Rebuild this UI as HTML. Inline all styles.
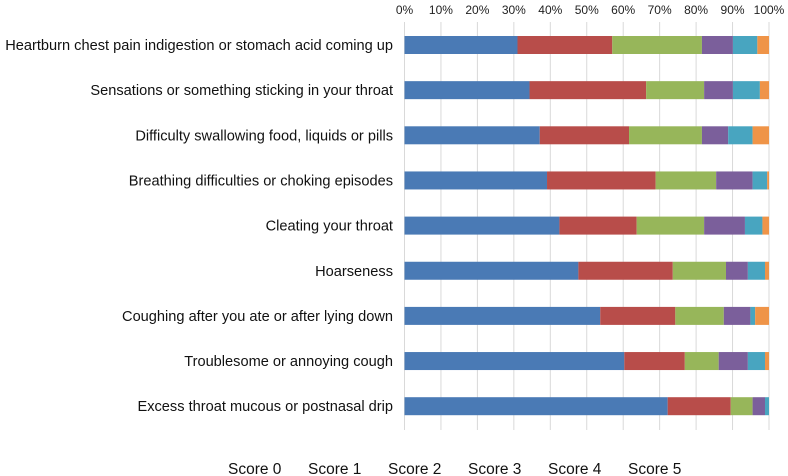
<!DOCTYPE html>
<html><head><meta charset="utf-8"><style>
body{margin:0;background:#fff;font-family:"Liberation Sans",sans-serif;}
svg{display:block}
</style></head><body>
<svg id="chart" width="788" height="476" xmlns="http://www.w3.org/2000/svg"></svg>
<script>
const categories=["Heartburn chest pain indigestion or stomach acid coming up","Sensations or something sticking in your throat","Difficulty swallowing food, liquids or pills","Breathing difficulties or choking episodes","Cleating your throat","Hoarseness","Coughing after you ate or after lying down","Troublesome or annoying cough","Excess throat mucous or postnasal drip"];
const score0=[31,34.3,37.1,39.1,42.5,47.7,53.7,60.3,72.2];
const score1=[26,32,24.5,29.8,21.2,25.9,20.6,16.6,17.3];
const score2=[24.6,15.9,20,16.6,18.5,14.6,13.3,9.3,6];
const score3=[8.5,7.9,7.2,10,11.2,6,7.3,8,3.4];
const score4=[6.7,7.4,6.7,4,4.8,4.7,1.3,4.7,1.1];
const score5=[3.2,2.5,4.5,0.5,1.8,1.1,3.8,1.1,0];
const seriesNames=["Score 0","Score 1","Score 2","Score 3","Score 4","Score 5"];
const tickLabels=["0%","10%","20%","30%","40%","50%","60%","70%","80%","90%","100%"];
const series=[score0,score1,score2,score3,score4,score5];
const colors=["#4a7ab5","#b84d4a","#97b65a","#7b5f9b","#48a5c0","#ef9448"];
const NS="http://www.w3.org/2000/svg";
const svg=document.getElementById("chart");
const x0=404.5,x1=769,yTop=22,yBot=430,rowStart=45,rowStep=45.15,barH=18;
const xs=v=>x0+(x1-x0)*v/100;
const yc=i=>rowStart+i*rowStep;
function mk(t,a){const e=document.createElementNS(NS,t);for(const k in a)e.setAttribute(k,a[k]);svg.appendChild(e);return e;}
tickLabels.forEach((t,i)=>{
  const v=i*10;
  const g=mk("line",{x1:xs(v),x2:xs(v),y1:yTop,y2:yBot,stroke:"#d9d9d9","stroke-width":1});
  
  
  const tx=mk("text",{x:xs(v),y:14,"font-size":12,"text-anchor":"middle",fill:"#222"});
  tx.textContent=t;
  
  
});
categories.forEach((c,i)=>{
  const lt=mk("text",{x:393,y:yc(i)+5,"font-size":14.6,"text-anchor":"end",fill:"#111"});
  lt.textContent=c;
  
  
  let cum=0;
  series.forEach((s,j)=>{
    const v=s[i];
    const r=mk("rect",{x:xs(cum),y:yc(i)-barH/2,width:Math.max(0,xs(cum+v)-xs(cum)),height:barH,fill:colors[j]});
    
    
    cum+=v;
  });
});
seriesNames.forEach((n,j)=>{
  const t=mk("text",{x:228+j*80,y:474,"font-size":15.5,fill:"#111"});
  t.textContent=n;
  
  
});
</script>
</body></html>
